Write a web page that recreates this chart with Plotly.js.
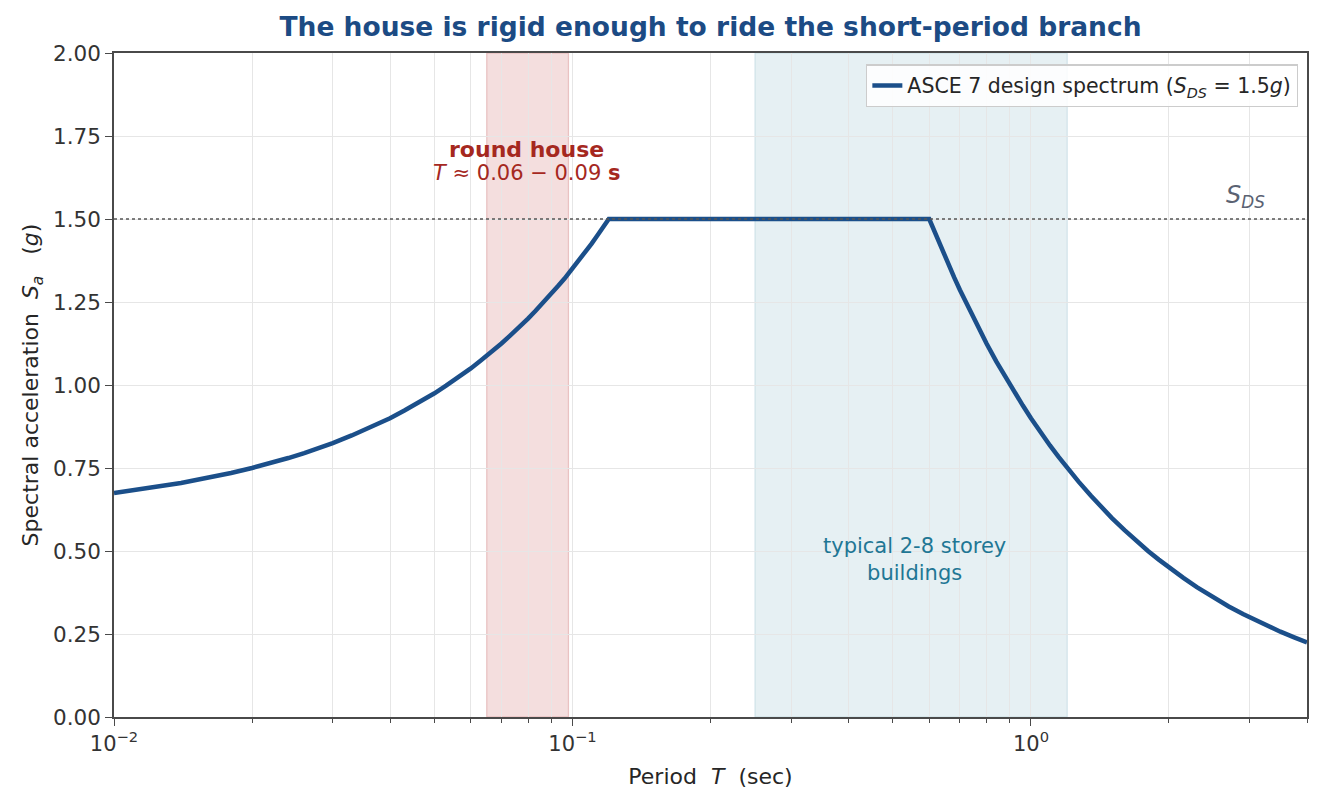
<!DOCTYPE html>
<html>
<head>
<meta charset="utf-8">
<script src="https://cdn.plot.ly/plotly-3.0.1.min.js"></script>
<style>html,body{margin:0;padding:0;background:#fff;}#chart{width:1323px;height:806px;}</style>
</head>
<body>
<div id="chart"></div>
<script>
// Period T (sec) and spectral acceleration Sa (g)
const periods = [0.01, 0.011, 0.012, 0.013, 0.014, 0.015, 0.016, 0.018, 0.02, 0.022,
                 0.024, 0.026, 0.028, 0.03, 0.033, 0.036, 0.04, 0.043, 0.046, 0.05,
                 0.053, 0.056, 0.06, 0.063, 0.066, 0.07, 0.073, 0.076, 0.08, 0.083,
                 0.086, 0.09, 0.093, 0.096, 0.1, 0.103, 0.106, 0.11, 0.113, 0.116, 0.12,
                 0.6, 0.62, 0.64, 0.66, 0.68, 0.7, 0.73, 0.76, 0.8, 0.84,
                 0.88, 0.92, 0.96, 1.0, 1.05, 1.1, 1.15, 1.2, 1.27, 1.35,
                 1.43, 1.5, 1.6, 1.7, 1.8, 1.9, 2.0, 2.15, 2.3, 2.5,
                 2.7, 2.9, 3.1, 3.3, 3.5, 3.75, 4.0];
const sa      = [0.675, 0.683, 0.69, 0.698, 0.705, 0.713, 0.72, 0.735, 0.75, 0.765,
                 0.78, 0.795, 0.81, 0.825, 0.848, 0.87, 0.9, 0.923, 0.945, 0.975,
                 0.998, 1.02, 1.05, 1.073, 1.095, 1.125, 1.148, 1.17, 1.2, 1.223,
                 1.245, 1.275, 1.298, 1.32, 1.35, 1.373, 1.395, 1.425, 1.448, 1.47, 1.5,
                 1.5, 1.452, 1.406, 1.364, 1.324, 1.286, 1.233, 1.184, 1.125, 1.071,
                 1.023, 0.978, 0.938, 0.9, 0.857, 0.818, 0.783, 0.75, 0.709, 0.667,
                 0.629, 0.6, 0.563, 0.529, 0.5, 0.474, 0.45, 0.419, 0.391, 0.36,
                 0.333, 0.31, 0.29, 0.273, 0.257, 0.24, 0.225];
const sds = 1.5;
const roundHouseBand = [0.065, 0.098];
const typicalBand = [0.25, 1.2];
const xRange = [0.01, 4];
const yRange = [0, 2];
const xMajorTicks = [0.01, 0.1, 1];
const xMajorLabels = ['10<sup>\u22122</sup>', '10<sup>\u22121</sup>', '10<sup>0</sup>'];
const yTicks = [0, 0.25, 0.5, 0.75, 1.0, 1.25, 1.5, 1.75, 2.0];
const yLabels = ['0.00', '0.25', '0.50', '0.75', '1.00', '1.25', '1.50', '1.75', '2.00'];
const xMinorTicks = [];
[0.01, 0.1, 1].forEach(d => { for (let k = 2; k <= 9; k++) { if (d * k <= 4) xMinorTicks.push(d * k); } });

const blue = '#1b4f8a';
const gridCol = '#e6e6e6';
const axCol = '#4a4a4a';
const font = 'DejaVu Sans, sans-serif';
const sp = '\u00a0';

const traces = [{
  x: periods, y: sa, type: 'scatter', mode: 'lines',
  line: {color: blue, width: 4.5},
  name: 'ASCE 7 design spectrum (<i>S<sub>DS</sub></i>' + sp + '=' + sp + '1.5<i>g</i>)'
}];

const layout = {
  width: 1323, height: 806,
  margin: {l: 114, r: 16, t: 53, b: 89},
  paper_bgcolor: '#ffffff', plot_bgcolor: '#ffffff',
  font: {family: font, color: '#262626', size: 20},
  title: {
    text: '<b>The house is rigid enough to ride the short-period branch</b>',
    font: {family: font, size: 26.5, color: '#1c4b84'},
    x: 0.5, xref: 'paper', xanchor: 'center',
    y: 1 - 27 / 806, yref: 'container', yanchor: 'middle'
  },
  showlegend: true,
  legend: {
    x: 0.9925, y: 0.983, xanchor: 'right', yanchor: 'top',
    bgcolor: 'rgba(255,255,255,0.85)', bordercolor: '#cccccc', borderwidth: 1.3,
    font: {family: font, size: 20.5, color: '#262626'}
  },
  xaxis: {
    type: 'log',
    range: [Math.log10(xRange[0]), Math.log10(xRange[1])],
    tickmode: 'array', tickvals: xMajorTicks, ticktext: xMajorLabels,
    ticks: 'outside', ticklen: 7, tickwidth: 1.3, tickcolor: axCol,
    showgrid: true, gridcolor: gridCol, gridwidth: 1.2,
    minor: {tickmode: 'array', tickvals: xMinorTicks, ticks: 'outside', ticklen: 4, tickwidth: 1, tickcolor: axCol, showgrid: true, gridcolor: gridCol, gridwidth: 1.2},
    showline: true, linecolor: axCol, linewidth: 1.5, mirror: true,
    zeroline: false,
    tickfont: {family: font, size: 21, color: '#333333'},
    title: {text: 'Period' + sp + sp + '<i>T</i>' + sp + sp + '(sec)', font: {family: font, size: 22, color: '#262626'}, standoff: 14}
  },
  yaxis: {
    range: yRange,
    tickmode: 'array', tickvals: yTicks, ticktext: yLabels,
    ticks: 'outside', ticklen: 7, tickwidth: 1.3, tickcolor: axCol,
    showgrid: true, gridcolor: gridCol, gridwidth: 1.2,
    showline: true, linecolor: axCol, linewidth: 1.5, mirror: true,
    zeroline: false,
    tickfont: {family: font, size: 21.5, color: '#333333'},
    title: {text: 'Spectral acceleration' + sp + sp + '<i>S<sub>a</sub></i>' + sp + sp + sp + '(<i>g</i>)', font: {family: font, size: 22, color: '#262626'}, standoff: 8}
  },
  shapes: [
    {type: 'rect', xref: 'x', yref: 'paper', x0: roundHouseBand[0], x1: roundHouseBand[1], y0: 0, y1: 1,
     fillcolor: 'rgba(178,34,34,0.15)', line: {color: 'rgba(178,34,34,0.22)', width: 1.2}, layer: 'below'},
    {type: 'rect', xref: 'x', yref: 'paper', x0: typicalBand[0], x1: typicalBand[1], y0: 0, y1: 1,
     fillcolor: 'rgba(31,119,149,0.11)', line: {color: 'rgba(31,119,149,0.14)', width: 1.2}, layer: 'below'},
    {type: 'line', xref: 'paper', yref: 'y', x0: 0, x1: 1, y0: sds, y1: sds,
     line: {color: '#555555', width: 1.5, dash: 'dot'}, layer: 'above'}
  ],
  annotations: [
    {xref: 'x', yref: 'y', x: Math.log10(0.0795), y: 1.71, text: '<b>round house</b>', showarrow: false,
     font: {family: font, size: 22, color: '#a5281f'}, xanchor: 'center', yanchor: 'middle'},
    {xref: 'x', yref: 'y', x: Math.log10(0.0795), y: 1.638, text: '<i>T</i>' + sp + '\u2248' + sp + '0.06' + sp + '\u2212' + sp + '0.09' + sp + '<b>s</b>', showarrow: false,
     font: {family: font, size: 21, color: '#a5281f'}, xanchor: 'center', yanchor: 'middle'},
    {xref: 'x', yref: 'y', x: Math.log10(0.557), y: 0.473, text: 'typical 2-8 storey<br>buildings', showarrow: false,
     font: {family: font, size: 21, color: '#1f7795'}, xanchor: 'center', yanchor: 'middle', align: 'center'},
    {xref: 'x', yref: 'y', x: Math.log10(2.94), y: 1.568, text: '<i>S<sub>DS</sub></i>', showarrow: false,
     font: {family: font, size: 24, color: '#5a6272'}, xanchor: 'center', yanchor: 'middle'}
  ]
};

Plotly.newPlot('chart', traces, layout, {displayModeBar: false, responsive: false});
</script>
</body>
</html>
